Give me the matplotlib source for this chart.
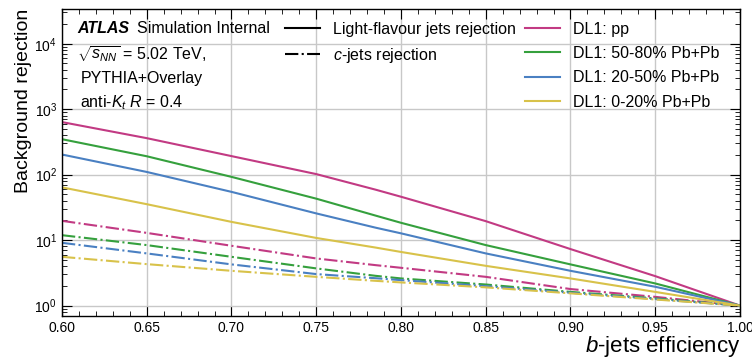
import numpy as np
import matplotlib
matplotlib.use('Agg')
import matplotlib.pyplot as plt
from matplotlib.lines import Line2D
from matplotlib.ticker import MultipleLocator, LogLocator, NullFormatter

plt.rcParams['font.family'] = ['Liberation Sans', 'DejaVu Sans']
plt.rcParams['mathtext.fontset'] = 'custom'
plt.rcParams['mathtext.rm'] = 'Liberation Sans'
plt.rcParams['mathtext.it'] = 'Liberation Sans:italic'
plt.rcParams['mathtext.bf'] = 'Liberation Sans:bold'

# b-jet efficiency points
eff = [0.60, 0.65, 0.70, 0.75, 0.785, 0.80, 0.85, 0.90, 0.95, 1.00]

# light-flavour jets rejection
light_pp = [635, 361, 192, 102, 59, 46, 19.5, 7.3, 2.82, 1.0]
light_5080 = [348, 191, 92.5, 43, 23.7, 18.4, 8.4, 4.26, 2.18, 1.0]
light_2050 = [203, 110, 54.6, 25.6, 15.5, 12.7, 6.27, 3.4, 1.94, 1.0]
light_020 = [64, 35.4, 19, 10.8, 7.7, 6.6, 4.05, 2.6, 1.62, 1.0]

# c-jets rejection
c_pp = [19.7, 12.9, 8.2, 5.25, 4.15, 3.78, 2.75, 1.79, 1.36, 1.0]
c_5080 = [11.9, 8.4, 5.56, 3.7, 2.85, 2.6, 2.1, 1.62, 1.29, 1.0]
c_2050 = [9.1, 6.27, 4.26, 3.03, 2.62, 2.45, 1.98, 1.57, 1.26, 1.0]
c_020 = [5.56, 4.3, 3.4, 2.75, 2.39, 2.26, 1.9, 1.54, 1.24, 1.0]

labels = ['DL1: pp', 'DL1: 50-80% Pb+Pb', 'DL1: 20-50% Pb+Pb', 'DL1: 0-20% Pb+Pb']
colors = ['#c23a83', '#35a03d', '#4a80c2', '#d8c24a']

light = [light_pp, light_5080, light_2050, light_020]
cjet = [c_pp, c_5080, c_2050, c_020]

fig = plt.figure(figsize=(7.52, 3.6), dpi=100)
ax = fig.add_axes([0.0824, 0.122, 0.9016, 0.853])

for i in range(4):
    ax.plot(eff, light[i], '-', color=colors[i], lw=1.5)
    ax.plot(eff, cjet[i], '-.', color=colors[i], lw=1.5)

ax.set_yscale('log')
ax.set_xlim(0.6, 1.0)
ax.set_ylim(10**-0.16, 10**4.53)

ax.xaxis.set_major_locator(MultipleLocator(0.05))
ax.xaxis.set_minor_locator(MultipleLocator(0.01))
ax.yaxis.set_major_locator(LogLocator(base=10, numticks=10))
ax.yaxis.set_minor_locator(LogLocator(base=10, subs=np.arange(2, 10), numticks=20))
ax.yaxis.set_minor_formatter(NullFormatter())
ax.xaxis.set_major_formatter(matplotlib.ticker.FormatStrFormatter('%.2f'))

ax.tick_params(which='both', direction='in', top=True, right=True, labelsize=10)
ax.tick_params(which='major', length=7)
ax.tick_params(which='minor', length=3.5)
ax.grid(True, which='major', color='#c8c8c8', lw=1.0)
for s in ax.spines.values():
    s.set_linewidth(1.0)

ax.set_xlabel('$b$-jets efficiency', fontsize=16, loc='right', labelpad=-1)
ax.set_ylabel('Background rejection', fontsize=14, loc='top', labelpad=2)

# text block top left
ax.text(0.022, 0.935, 'ATLAS', transform=ax.transAxes, fontsize=11.5, va='center',
        fontweight='bold', fontstyle='italic')
ax.text(0.111, 0.935, 'Simulation Internal', transform=ax.transAxes, fontsize=11.5, va='center')
ax.text(0.022, 0.852, r'$\sqrt{s_{NN}}$ = 5.02 TeV,', transform=ax.transAxes, fontsize=11.5, va='center')
ax.text(0.027, 0.773, 'PYTHIA+Overlay', transform=ax.transAxes, fontsize=11.5, va='center')
ax.text(0.027, 0.694, r'anti-$K_t$ $R$ = 0.4', transform=ax.transAxes, fontsize=11.5, va='center')

# legend: styles in column one, samples in column two
blank = Line2D([], [], color='none')
handles = [Line2D([], [], color='black', ls='-', lw=1.5),
           Line2D([], [], color='black', ls='-.', lw=1.5),
           blank, blank]
names = ['Light-flavour jets rejection', '$c$-jets rejection', '', '']
for i in range(4):
    handles.append(Line2D([], [], color=colors[i], lw=1.5))
    names.append(labels[i])
ax.legend(handles, names, ncol=2, loc='upper left', bbox_to_anchor=(0.31, 1.0),
          frameon=False, fontsize=11.5, handlelength=2.2, handletextpad=0.8,
          columnspacing=0.6, labelspacing=0.58, borderaxespad=0.4)

fig.savefig('out.png', dpi=100)
